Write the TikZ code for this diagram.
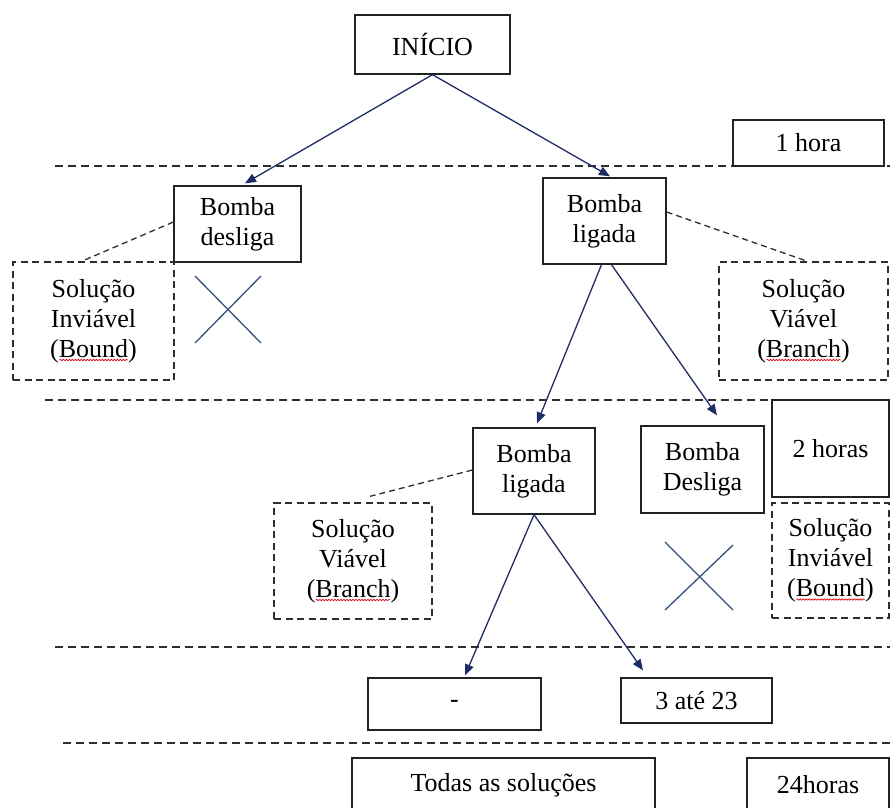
\documentclass[tikz,border=0pt]{standalone}
\usepackage{fontspec}
\setmainfont{Liberation Serif}
\usetikzlibrary{arrows.meta,decorations.pathmorphing}
\definecolor{arr}{HTML}{1F2D66}
\definecolor{crs}{HTML}{34507F}
\definecolor{bord}{HTML}{222222}
\definecolor{dsh}{HTML}{2E2E2E}
\begin{document}
\begin{tikzpicture}[x=1pt,y=-1pt,
  txt/.style={align=center,inner sep=0pt,font=\fontsize{26}{30}\selectfont},
  box/.style={txt,draw=bord,line width=1.3pt},
  dbox/.style={txt,draw=dsh,line width=1.4pt,dash pattern=on 7pt off 4.5pt},
  sz/.style 2 args={minimum width=#1pt,minimum height=#2pt},
  arrowline/.style={draw=arr,line width=1.3pt,-{Triangle[length=11pt,width=9pt]}},
  link/.style={draw=dsh,line width=1.3pt,dash pattern=on 6pt off 4pt},
  level/.style={draw=dsh,line width=1.3pt,dash pattern=on 8pt off 5pt},
  crossline/.style={draw=crs,line width=1.3pt},
  spell/.style={draw=red!85!black,line width=0.7pt,decorate,decoration={snake,amplitude=0.7pt,segment length=3pt}}]
\useasboundingbox[fill=white] (0,0) rectangle (890,807);

% level lines
\draw[level] (55,166) -- (890,166);
\draw[level] (45,400) -- (890,400);
\draw[level] (55,647) -- (890,647);
\draw[level] (63,743) -- (890,743);

% nodes
\node[box,sz={155}{59}] (inicio) at (432.5,44.5) {INÍCIO};
\node[box,sz={151}{46},fill=white] (hora1) at (808.5,143) {1 hora};
\node[box,sz={127}{76}] (bd1) at (237.5,224) {Bomba\\desliga};
\node[box,sz={123}{86}] (bl1) at (604.5,221) {Bomba\\ligada};
\node[dbox,sz={161}{118}] (inv1) at (93.5,321) {Solução\\Inviável\\(Bound)};
\node[dbox,sz={169}{118}] (via1) at (803.5,321) {Solução\\Viável\\(Branch)};
\node[box,sz={122}{86}] (bl2) at (534,471) {Bomba\\ligada};
\node[box,sz={123}{87}] (bd2) at (702.5,469.5) {Bomba\\Desliga};
\node[box,sz={117}{97},fill=white] (hora2) at (830.5,448.5) {2 horas};
\node[dbox,sz={158}{116}] (via2) at (353,561) {Solução\\Viável\\(Branch)};
\node[dbox,sz={117}{115}] (inv2) at (830.5,560.5) {Solução\\Inviável\\(Bound)};
\node[box,sz={173}{52}] (dash) at (454.5,704) {-};
\node[box,sz={151}{45}] (ate) at (696.5,700.5) {3 até 23};
\node[box,sz={303}{54}] (todas) at (503.5,785) {Todas as soluções};
\node[box,sz={142}{54}] (h24) at (818,785) {24horas};

% spell-check marks
\draw[spell] ([xshift=-34pt,yshift=-39pt]inv1.center) -- ([xshift=34pt,yshift=-39pt]inv1.center);
\draw[spell] ([xshift=-37pt,yshift=-39pt]via1.center) -- ([xshift=37pt,yshift=-39pt]via1.center);
\draw[spell] ([xshift=-37pt,yshift=-39pt]via2.center) -- ([xshift=37pt,yshift=-39pt]via2.center);
\draw[spell] ([xshift=-34pt,yshift=-39pt]inv2.center) -- ([xshift=34pt,yshift=-39pt]inv2.center);

% dashed links
\draw[link] ([yshift=2pt]bd1.west) -- ([xshift=-12pt]inv1.north);
\draw[link] ([yshift=9pt]bl1.east) -- ([xshift=4pt]via1.north);
\draw[link] ([yshift=1pt]bl2.west) -- ([xshift=17pt,yshift=6pt]via2.north);

% arrows
\draw[arrowline] (inicio.south) -- ([xshift=7.5pt,yshift=2pt]bd1.north);
\draw[arrowline] (inicio.south) -- ([xshift=5.5pt,yshift=1pt]bl1.north);
\draw[arrowline] ([xshift=-3pt]bl1.south) -- ([xshift=3pt,yshift=4pt]bl2.north);
\draw[arrowline] ([xshift=7pt]bl1.south) -- ([xshift=14.5pt,yshift=10pt]bd2.north);
\draw[arrowline] (bl2.south) -- ([xshift=10.5pt,yshift=2pt]dash.north);
\draw[arrowline] (bl2.south) -- ([xshift=-53.5pt,yshift=7pt]ate.north);

% crosses
\draw[crossline] (195,276) -- (261,343);
\draw[crossline] (261,276) -- (195,343);
\draw[crossline] (665,542) -- (733,610);
\draw[crossline] (733,545) -- (665,610);
\end{tikzpicture}
\end{document}
